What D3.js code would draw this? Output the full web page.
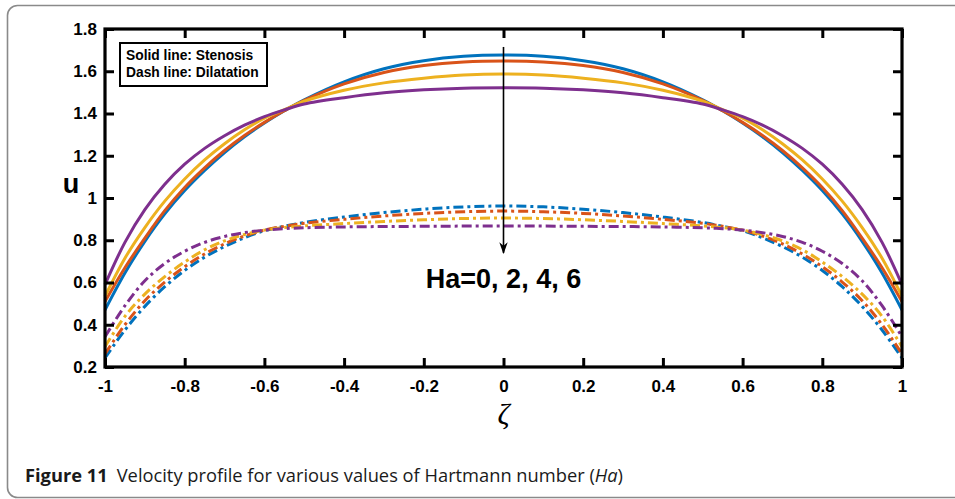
<!DOCTYPE html>
<html>
<head>
<meta charset="utf-8">
<script src="https://cdn.jsdelivr.net/npm/d3@7"></script>
<style>
  body { margin: 0; background: #fff; }
  svg { display: block; }
</style>
</head>
<body>
<svg id="chart" width="955" height="499"></svg>
<script>
// zeta positions across the channel
var zeta = [-1, -0.95, -0.9, -0.85, -0.8, -0.75, -0.7, -0.65, -0.6, -0.55, -0.5, -0.4, -0.3, -0.2, -0.1, 0,
            0.1, 0.2, 0.3, 0.4, 0.5, 0.55, 0.6, 0.65, 0.7, 0.75, 0.8, 0.85, 0.9, 0.95, 1];

var hartmann = [0, 2, 4, 6];

// solid lines: stenosis
var stenosisHa0 = [0.47, 0.645, 0.795, 0.925, 1.035, 1.13, 1.215, 1.29, 1.355, 1.413, 1.465, 1.55, 1.612, 1.65, 1.671, 1.677,
                   1.671, 1.65, 1.612, 1.55, 1.465, 1.413, 1.355, 1.29, 1.215, 1.13, 1.035, 0.925, 0.795, 0.645, 0.47];
var stenosisHa2 = [0.51, 0.67, 0.81, 0.94, 1.05, 1.143, 1.225, 1.296, 1.358, 1.413, 1.462, 1.54, 1.594, 1.627, 1.644, 1.649,
                   1.644, 1.627, 1.594, 1.54, 1.462, 1.413, 1.358, 1.296, 1.225, 1.143, 1.05, 0.94, 0.81, 0.67, 0.51];
var stenosisHa4 = [0.535, 0.715, 0.86, 0.985, 1.09, 1.18, 1.257, 1.323, 1.378, 1.418, 1.458, 1.51, 1.545, 1.567, 1.582, 1.587,
                   1.582, 1.567, 1.545, 1.51, 1.458, 1.418, 1.378, 1.323, 1.257, 1.18, 1.09, 0.985, 0.86, 0.715, 0.535];
var stenosisHa6 = [0.59, 0.79, 0.945, 1.065, 1.16, 1.235, 1.295, 1.345, 1.385, 1.417, 1.445, 1.475, 1.498, 1.512, 1.52, 1.522,
                   1.52, 1.512, 1.498, 1.475, 1.445, 1.417, 1.385, 1.345, 1.295, 1.235, 1.16, 1.065, 0.945, 0.79, 0.59];

// dash-dot lines: dilatation
var dilatationHa0 = [0.243, 0.375, 0.487, 0.58, 0.657, 0.72, 0.77, 0.812, 0.845, 0.866, 0.884, 0.91, 0.931, 0.947, 0.958, 0.962,
                     0.958, 0.947, 0.931, 0.91, 0.884, 0.866, 0.845, 0.812, 0.77, 0.72, 0.657, 0.58, 0.487, 0.375, 0.243];
var dilatationHa2 = [0.262, 0.4, 0.514, 0.602, 0.675, 0.735, 0.783, 0.82, 0.848, 0.866, 0.88, 0.899, 0.915, 0.927, 0.935, 0.938,
                     0.935, 0.927, 0.915, 0.899, 0.88, 0.866, 0.848, 0.82, 0.783, 0.735, 0.675, 0.602, 0.514, 0.4, 0.262];
var dilatationHa4 = [0.296, 0.44, 0.545, 0.628, 0.697, 0.755, 0.797, 0.827, 0.848, 0.86, 0.868, 0.879, 0.889, 0.897, 0.903, 0.905,
                     0.903, 0.897, 0.889, 0.879, 0.868, 0.86, 0.848, 0.827, 0.797, 0.755, 0.697, 0.628, 0.545, 0.44, 0.296];
var dilatationHa6 = [0.343, 0.49, 0.608, 0.69, 0.748, 0.79, 0.818, 0.836, 0.848, 0.855, 0.859, 0.863, 0.865, 0.866, 0.867, 0.867,
                     0.867, 0.866, 0.865, 0.863, 0.859, 0.855, 0.848, 0.836, 0.818, 0.79, 0.748, 0.69, 0.608, 0.49, 0.343];

var xTicks = [-1, -0.8, -0.6, -0.4, -0.2, 0, 0.2, 0.4, 0.6, 0.8, 1];
var yTicks = [0.2, 0.4, 0.6, 0.8, 1, 1.2, 1.4, 1.6, 1.8];

var colors = ["#0072BD", "#D95319", "#EDB120", "#7E2F8E"];

var svg = d3.select("#chart");

var plot = { left: 105, right: 902, top: 29, bottom: 367 };

var xScale = d3.scaleLinear().domain([-1, 1]).range([plot.left, plot.right]);
var yScale = d3.scaleLinear().domain([0.2, 1.8]).range([plot.bottom, plot.top]);

var fmt = function(d) { return String(+d.toFixed(1)); };

// outer figure frame
svg.append("rect")
  .attr("x", 7.5).attr("y", 5.5)
  .attr("width", 1000).attr("height", 492)
  .attr("rx", 10).attr("ry", 10)
  .attr("fill", "none")
  .attr("stroke", "#8a8a8a")
  .attr("stroke-width", 1.6);

// curves
var line = d3.line()
  .x(function(d) { return xScale(d[0]); })
  .y(function(d) { return yScale(d[1]); })
  .curve(d3.curveCatmullRom.alpha(0.5));

var stenosis = [stenosisHa0, stenosisHa2, stenosisHa4, stenosisHa6];
var dilatation = [dilatationHa0, dilatationHa2, dilatationHa4, dilatationHa6];

dilatation.forEach(function(vals, i) {
  svg.append("path")
    .datum(d3.zip(zeta, vals))
    .attr("d", line)
    .attr("fill", "none")
    .attr("stroke", colors[i])
    .attr("stroke-width", 3)
    .attr("stroke-dasharray", "10,4,3,4");
});

stenosis.forEach(function(vals, i) {
  svg.append("path")
    .datum(d3.zip(zeta, vals))
    .attr("d", line)
    .attr("fill", "none")
    .attr("stroke", colors[i])
    .attr("stroke-width", 3);
});

// axes: labelled bottom / left, mirrored ticks top / right
var tickFont = function(g) {
  g.select(".domain").remove();
  g.selectAll(".tick line").attr("stroke", "#000").attr("stroke-width", 3);
  g.selectAll(".tick text")
    .attr("fill", "#000")
    .style("font-family", "'Liberation Sans', Arial, sans-serif")
    .style("font-weight", "bold")
    .style("font-size", "17px");
};

svg.append("g")
  .attr("transform", "translate(0," + plot.bottom + ")")
  .call(d3.axisBottom(xScale).tickValues(xTicks).tickSizeInner(-9).tickSizeOuter(0).tickPadding(13).tickFormat(fmt))
  .call(tickFont);

svg.append("g")
  .attr("transform", "translate(0," + plot.top + ")")
  .call(d3.axisTop(xScale).tickValues(xTicks).tickSizeInner(-9).tickSizeOuter(0).tickFormat(""))
  .call(tickFont);

svg.append("g")
  .attr("transform", "translate(" + plot.left + ",0)")
  .call(d3.axisLeft(yScale).tickValues(yTicks).tickSizeInner(-9).tickSizeOuter(0).tickPadding(8).tickFormat(fmt))
  .call(tickFont);

svg.append("g")
  .attr("transform", "translate(" + plot.right + ",0)")
  .call(d3.axisRight(yScale).tickValues(yTicks).tickSizeInner(-9).tickSizeOuter(0).tickFormat(""))
  .call(tickFont);

// plot box
svg.append("rect")
  .attr("x", plot.left).attr("y", plot.top)
  .attr("width", plot.right - plot.left).attr("height", plot.bottom - plot.top)
  .attr("fill", "none")
  .attr("stroke", "#000")
  .attr("stroke-width", 3.2);

// legend note
var note = svg.append("g");
note.append("rect")
  .attr("x", 120).attr("y", 43)
  .attr("width", 147).attr("height", 43)
  .attr("fill", "#fff")
  .attr("stroke", "#000")
  .attr("stroke-width", 2);
note.selectAll("text")
  .data(["Solid line: Stenosis", "Dash line: Dilatation"])
  .enter().append("text")
  .attr("x", 126)
  .attr("y", function(d, i) { return 60 + i * 17; })
  .style("font-family", "'Liberation Sans', Arial, sans-serif")
  .style("font-weight", "bold")
  .style("font-size", "13.8px")
  .text(function(d) { return d; });

// arrow through Ha
svg.append("defs").append("marker")
  .attr("id", "head")
  .attr("viewBox", "0 0 10 10")
  .attr("refX", 9).attr("refY", 5)
  .attr("markerWidth", 12).attr("markerHeight", 12)
  .attr("markerUnits", "userSpaceOnUse")
  .attr("orient", "auto")
  .append("path")
  .attr("d", "M0,1.5 L10,5 L0,8.5 L3,5 Z")
  .attr("fill", "#000");

svg.append("line")
  .attr("x1", xScale(0)).attr("x2", xScale(0))
  .attr("y1", yScale(1.715)).attr("y2", yScale(0.74))
  .attr("stroke", "#000")
  .attr("stroke-width", 1.6)
  .attr("marker-end", "url(#head)");

svg.append("text")
  .attr("x", xScale(0))
  .attr("y", 288)
  .attr("text-anchor", "middle")
  .style("font-family", "'Liberation Sans', Arial, sans-serif")
  .style("font-weight", "bold")
  .style("font-size", "27px")
  .text("Ha=" + hartmann.join(", "));

// axis titles
svg.append("text")
  .attr("x", 71).attr("y", 193)
  .attr("text-anchor", "middle")
  .style("font-family", "'Liberation Sans', Arial, sans-serif")
  .style("font-weight", "bold")
  .style("font-size", "27px")
  .text("u");

svg.append("text")
  .attr("x", xScale(0)).attr("y", 424)
  .attr("text-anchor", "middle")
  .style("font-family", "'Liberation Serif', 'Times New Roman', serif")
  .style("font-style", "italic")
  .style("font-size", "30px")
  .text("ζ");

// caption
var cap = svg.append("text")
  .attr("x", 25).attr("y", 482)
  .style("font-family", "'Open Sans', 'Noto Sans', sans-serif")
  .style("font-size", "18.3px")
  .attr("fill", "#1a1a1a");
cap.append("tspan").style("font-weight", "bold").text("Figure 11");
cap.append("tspan").attr("dx", 9).text("Velocity profile for various values of Hartmann number (");
cap.append("tspan").style("font-style", "italic").text("Ha");
cap.append("tspan").text(")");
</script>
</body>
</html>
